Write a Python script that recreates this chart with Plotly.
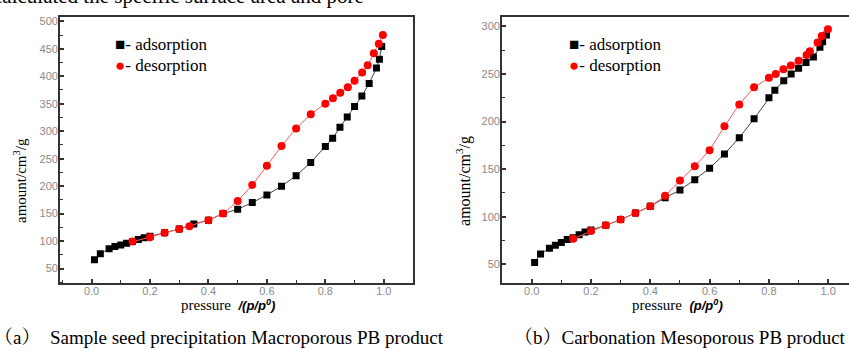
import plotly.graph_objects as go

# ---- Panel (a) data ----
a_ads_x = [0.01, 0.03, 0.06, 0.08, 0.10, 0.12, 0.14, 0.16, 0.18, 0.20, 0.25, 0.30, 0.35, 0.40,
           0.45, 0.50, 0.55, 0.60, 0.65, 0.70, 0.75, 0.80, 0.825, 0.85, 0.875, 0.90, 0.925,
           0.95, 0.975, 0.985, 0.993]
a_ads_y = [66, 77, 86, 90, 93, 96, 99, 103, 106, 109, 115, 122, 131, 138,
           150, 158, 170, 184, 200, 219, 243, 272, 287, 307, 326, 345, 364,
           387, 415, 431, 454]
a_des_x = [0.997, 0.983, 0.966, 0.945, 0.926, 0.90, 0.877, 0.851, 0.826, 0.80, 0.75, 0.70,
           0.65, 0.60, 0.55, 0.50, 0.45, 0.40, 0.335, 0.30, 0.25, 0.20, 0.14]
a_des_y = [475, 459, 442, 420, 407, 392, 380, 370, 360, 350, 331, 305,
           273, 237, 202, 173, 150, 138, 127, 122, 115, 107, 99]

# ---- Panel (b) data ----
b_ads_x = [0.01, 0.03, 0.06, 0.08, 0.10, 0.12, 0.14, 0.16, 0.18, 0.20, 0.25, 0.30, 0.35, 0.40,
           0.45, 0.50, 0.55, 0.60, 0.65, 0.70, 0.75, 0.80, 0.82, 0.85, 0.875, 0.90, 0.925,
           0.95, 0.972, 0.981, 0.994]
b_ads_y = [52, 61, 67, 70, 73, 76, 78, 81, 84, 86, 91, 97, 104, 111,
           120, 128, 139, 151, 166, 183, 203, 225, 233, 243, 250, 256, 262,
           268, 278, 284, 291]
b_des_x = [0.999, 0.978, 0.964, 0.938, 0.927, 0.90, 0.874, 0.849, 0.823, 0.80, 0.75, 0.70,
           0.65, 0.60, 0.55, 0.50, 0.45, 0.40, 0.35, 0.30, 0.25, 0.20, 0.14]
b_des_y = [297, 290, 283, 274, 270, 264, 259, 255, 250, 246, 236, 218,
           195, 170, 153, 138, 122, 111, 104, 97, 91, 85, 77]

W, H = 849, 350
SERIF = "Liberation Serif, Times New Roman, serif"
SANS = "Liberation Sans, Arial, sans-serif"

def px(x):
    return x / W

def py(y):
    return (H - y) / H

fig = go.Figure()

def add_panel(xa, ya, ax, ay, dx, dy):
    fig.add_trace(go.Scatter(x=ax, y=ay, mode="lines+markers", xaxis=xa, yaxis=ya,
                             line=dict(color="#444444", width=1),
                             marker=dict(symbol="square", size=7, color="black"),
                             showlegend=False))
    fig.add_trace(go.Scatter(x=dx, y=dy, mode="lines+markers", xaxis=xa, yaxis=ya,
                             line=dict(color="#ff5a5a", width=1),
                             marker=dict(symbol="circle", size=8, color="#ff0000"),
                             showlegend=False))

add_panel("x", "y", a_ads_x, a_ads_y, a_des_x, a_des_y)
add_panel("x2", "y2", b_ads_x, b_ads_y, b_des_x, b_des_y)

tickfont = dict(family=SANS, size=11, color="#8a8a8a")
common_x = dict(showgrid=False, zeroline=False, showline=True, linecolor="#333333", linewidth=1.8,
                ticks="inside", ticklen=4, tickwidth=1.5, tickcolor="#333333",
                dtick=0.2, tick0=0, tickformat=".1f", tickfont=tickfont,
                minor=dict(ticks="inside", dtick=0.1, ticklen=3, tickwidth=1.2, tickcolor="#333333"),
                ticklabelstandoff=-3)
common_y = dict(showgrid=False, zeroline=False, showline=True, linecolor="#333333", linewidth=1.8,
                ticks="inside", ticklen=4, tickwidth=1.5, tickcolor="#333333",
                dtick=50, tick0=0, tickfont=tickfont,
                minor=dict(ticks="inside", dtick=25, ticklen=3, tickwidth=1.2, tickcolor="#333333"),
                ticklabelstandoff=-2)

ydom = [py(283), py(15)]
fig.update_layout(
    width=W, height=H,
    margin=dict(l=0, r=0, t=0, b=0),
    paper_bgcolor="white", plot_bgcolor="white",
    xaxis=dict(domain=[px(60), px(413)], range=[-0.108, 1.1], anchor="y", mirror=True, **common_x),
    yaxis=dict(domain=ydom, range=[23, 508], anchor="x", mirror=True, **common_y),
    xaxis2=dict(domain=[px(502), 1.0], range=[-0.1, 1.07], anchor="y2", mirror=True, **common_x),
    yaxis2=dict(domain=ydom, range=[30, 310], anchor="x2", mirror=False, **common_y),
)

ann = []
# legends
for x0 in (113, 567):
    ann.append(dict(x=px(x0), y=py(43), xref="paper", yref="paper", xanchor="left", yanchor="middle",
                    text="■- adsorption", showarrow=False, font=dict(family=SERIF, size=17, color="black")))
    ann.append(dict(x=px(x0), y=py(64), xref="paper", yref="paper", xanchor="left", yanchor="middle",
                    text="<span style='color:#ff0000'>●</span>- desorption", showarrow=False,
                    font=dict(family=SERIF, size=17, color="black")))
# y titles
for x0, fs in ((20, 15), (464, 16)):
    ann.append(dict(x=px(x0), y=py(180), xref="paper", yref="paper", xanchor="center", yanchor="middle",
                    text="amount/cm<sup>3</sup>/g", textangle=-90, showarrow=False,
                    font=dict(family=SERIF, size=fs, color="black")))
# x titles
ann.append(dict(x=px(179), y=py(305), xref="paper", yref="paper", xanchor="left", yanchor="middle",
                text="pressure  <span style='font-family:Liberation Sans;font-size:13px'><b><i>/(p/p<sup>0</sup>)</i></b></span>",
                showarrow=False, font=dict(family=SERIF, size=15, color="black")))
ann.append(dict(x=px(630), y=py(305), xref="paper", yref="paper", xanchor="left", yanchor="middle",
                text="pressure  <span style='font-family:Liberation Sans;font-size:13px'><b><i>(p/p<sup>0</sup>)</i></b></span>",
                showarrow=False, font=dict(family=SERIF, size=15, color="black")))
# captions
capfont = dict(family="Liberation Serif, Noto Serif CJK SC, Noto Sans CJK SC, serif", size=19, color="black")
ann.append(dict(x=px(-8), y=py(337), xref="paper", yref="paper", xanchor="left", yanchor="middle",
                text="（a）  Sample seed precipitation Macroporous PB product", showarrow=False, font=capfont))
ann.append(dict(x=px(512), y=py(337), xref="paper", yref="paper", xanchor="left", yanchor="middle",
                text="（b）Carbonation Mesoporous PB product", showarrow=False, font=capfont))
# cropped text at top
ann.append(dict(x=px(366), y=py(8), xref="paper", yref="paper", xanchor="right", yanchor="bottom",
                text="calculated the specific surface area and pore", showarrow=False,
                font=dict(family=SERIF, size=21, color="black")))

fig.update_layout(annotations=ann)
fig.write_html("out.html", config={"displayModeBar": False},
               post_script="document.body.style.margin='0';document.body.style.overflow='hidden';")
